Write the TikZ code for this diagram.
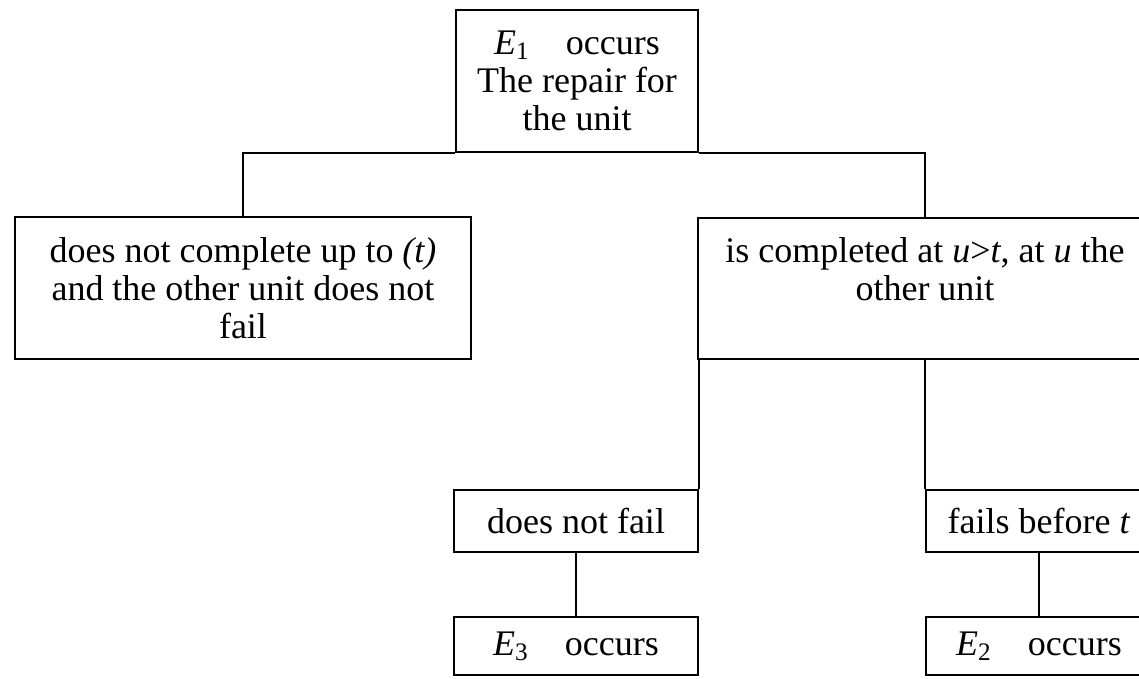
\documentclass[tikz,border=0pt]{standalone}
\usepackage{fontspec}
\setmainfont{Liberation Serif}
\begin{document}
\begin{tikzpicture}[x=0.5pt,y=-0.5pt,
        event/.style={draw, line width=1pt, align=center, inner sep=0pt,
            font=\fontsize{18}{19}\selectfont},
        link/.style={line width=1pt}]
    \useasboundingbox (0,0) rectangle (1139,679);
    \clip (0,0) rectangle (1139,679);
    % repair of the failed unit
    \node[event, minimum width=121pt, minimum height=71pt] (repair) at (577,81)
        {\textit{E}\textsubscript{1}\quad occurs\\The repair for\\the unit};
    \node[event, minimum width=228pt, minimum height=70.5pt] (notdone) at (243,288)
        {does not complete up to \textit{(t)}\\and the other unit does not\\fail};
    \node[event, minimum width=227pt, minimum height=70.5pt] (done) at (925,288.5)
        {is completed at \textit{u}>\textit{t}, at \textit{u} the\\other unit\\\mbox{}};
    % state of the other unit
    \node[event, minimum width=122pt, minimum height=31pt] (nofail) at (576,521)
        {does not fail};
    \node[event, minimum width=113pt, minimum height=31pt] (fails) at (1039,521)
        {fails before \textit{t}};
    \node[event, minimum width=122pt, minimum height=29pt] (ethree) at (576,646)
        {\textit{E}\textsubscript{3}\quad occurs};
    \node[event, minimum width=113pt, minimum height=29pt] (etwo) at (1039,646)
        {\textit{E}\textsubscript{2}\quad occurs};
    \draw[link] (notdone.north) |- (repair.south west);
    \draw[link] (repair.south east) -| (done.north);
    \draw[link] (nofail.north east) -- (nofail.north east |- done.south);
    \draw[link] (fails.north west) -- (fails.north west |- done.south);
    \draw[link] (nofail) -- (ethree);
    \draw[link] (fails) -- (etwo);
\end{tikzpicture}
\end{document}
